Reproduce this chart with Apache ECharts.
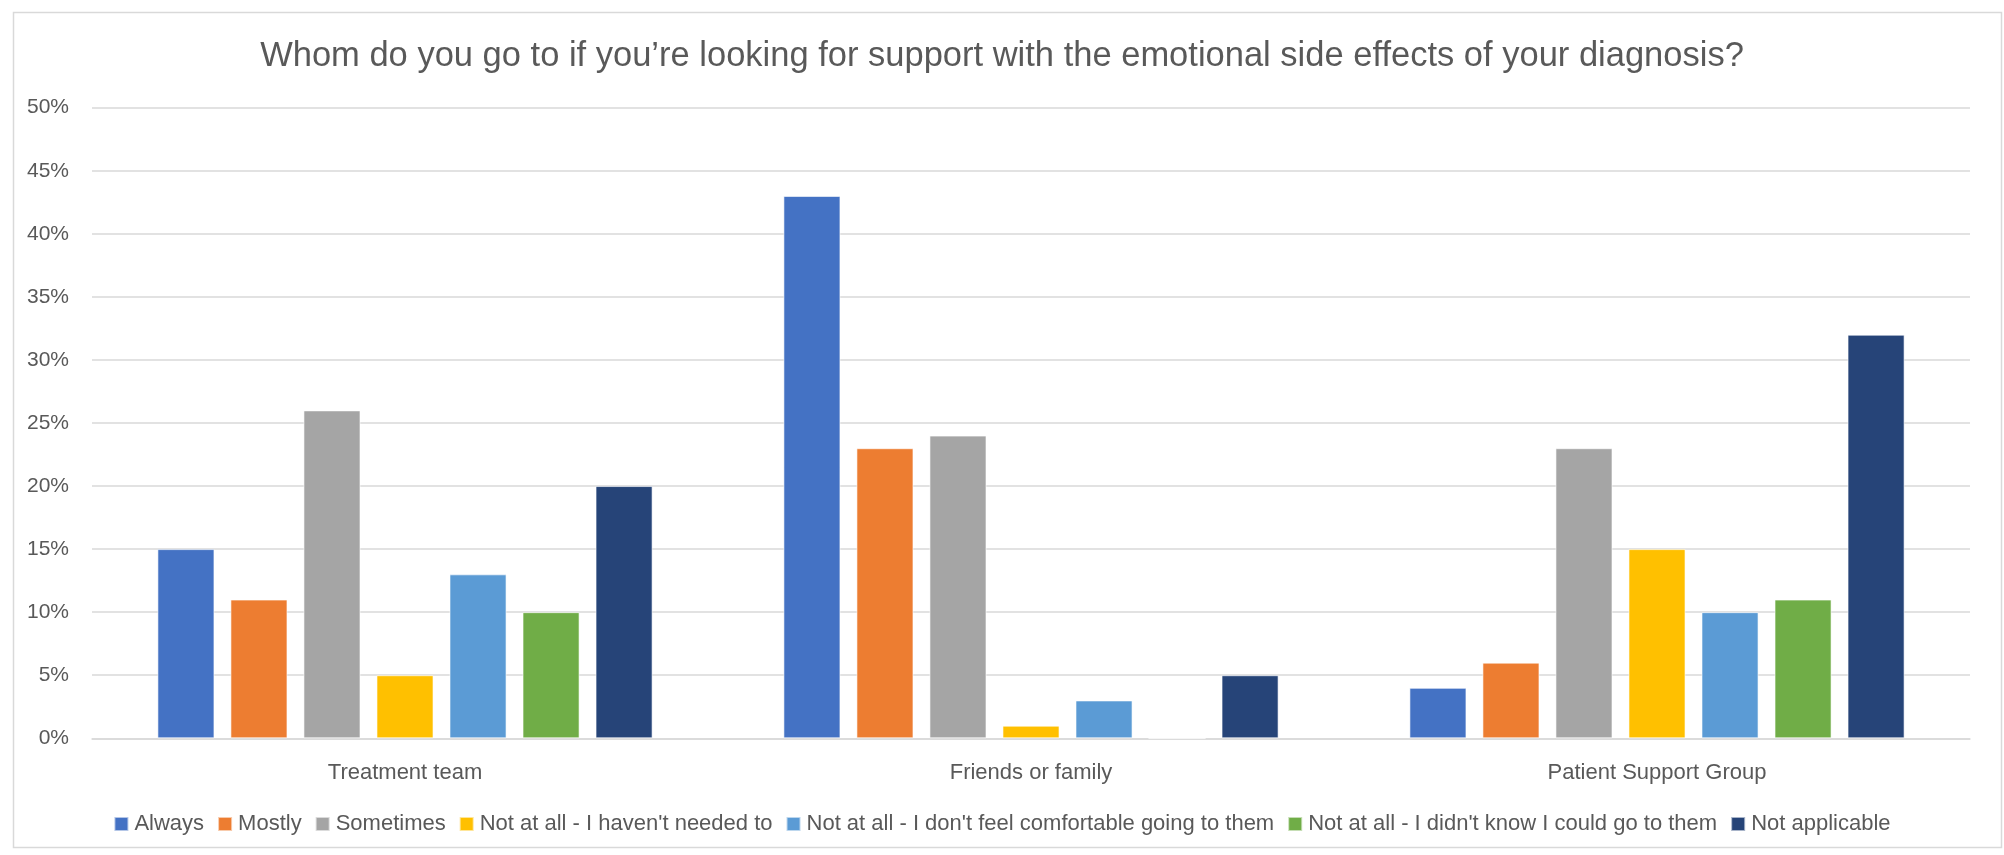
<!DOCTYPE html>
<html>
<head>
<meta charset="utf-8">
<script src="https://cdn.jsdelivr.net/npm/echarts@6/dist/echarts.min.js"></script>
<style>
html,body{margin:0;padding:0;background:#fff;}
#chart{width:2004px;height:855px;}
</style>
</head>
<body>
<div id="chart"></div>
<script>
const titleText = "Whom do you go to if you\u2019re looking for support with the emotional side effects of your diagnosis?";
const categories = ["Treatment team", "Friends or family", "Patient Support Group"];
const seriesNames = [
  "Always",
  "Mostly",
  "Sometimes",
  "Not at all - I haven't needed to",
  "Not at all - I don't feel comfortable going to them",
  "Not at all - I didn't know I could go to them",
  "Not applicable"
];
const always        = [15, 43, 4];
const mostly        = [11, 23, 6];
const sometimes     = [26, 24, 23];
const notNeeded     = [5, 1, 15];
const notComfortable= [13, 3, 10];
const didntKnow     = [10, 0, 11];
const notApplicable = [20, 5, 32];
const seriesValues = [always, mostly, sometimes, notNeeded, notComfortable, didntKnow, notApplicable];
const colors = ["#4472C4", "#ED7D31", "#A5A5A5", "#FFC000", "#5B9BD5", "#70AD47", "#264478"];
const yTicks = [0, 50, 5];

const FONT = "'Liberation Sans', Arial, sans-serif";
const TXT = "#595959";

const chart = echarts.init(document.getElementById('chart'), null, {renderer: 'canvas'});
chart.setOption({
  animation: false,
  backgroundColor: '#fff',
  color: colors,
  textStyle: {fontFamily: FONT, color: TXT},
  graphic: [{
    type: 'rect', left: 11, top: 10, silent: true,
    shape: {width: 1988, height: 835},
    style: {fill: 'none', stroke: '#D9D9D9', lineWidth: 1.5}
  }],
  title: {
    text: titleText, left: 'center', top: 34,
    textStyle: {fontFamily: FONT, fontSize: 34.5, fontWeight: 'normal', color: TXT}
  },
  legend: {
    data: seriesNames, top: 808, left: 'center',
    itemWidth: 14, itemHeight: 14, itemGap: 13,
    icon: 'rect',
    textStyle: {fontFamily: FONT, fontSize: 22, color: TXT, padding: [0,0,0,1]}
  },
  grid: {left: 92, right: 34, top: 107.7, bottom: 116.7, containLabel: false},
  xAxis: {
    type: 'category', data: categories,
    axisLine: {lineStyle: {color: '#D9D9D9', width: 1.5}},
    axisTick: {show: false},
    axisLabel: {fontFamily: FONT, fontSize: 22, color: TXT, margin: 24}
  },
  yAxis: {
    type: 'value', min: yTicks[0], max: yTicks[1], interval: yTicks[2],
    axisLine: {show: false}, axisTick: {show: false},
    splitLine: {lineStyle: {color: '#D9D9D9', width: 1.5}},
    axisLabel: {fontFamily: FONT, fontSize: 21, color: TXT, margin: 23, formatter: '{value}%'}
  },
  series: seriesNames.map((n, i) => ({
    name: n, type: 'bar', data: seriesValues[i],
    barGap: '28%', barCategoryGap: '20.9%',
    itemStyle: {color: colors[i], borderColor: 'rgba(255,255,255,0.6)', borderWidth: 1}
  }))
});
</script>
</body>
</html>
